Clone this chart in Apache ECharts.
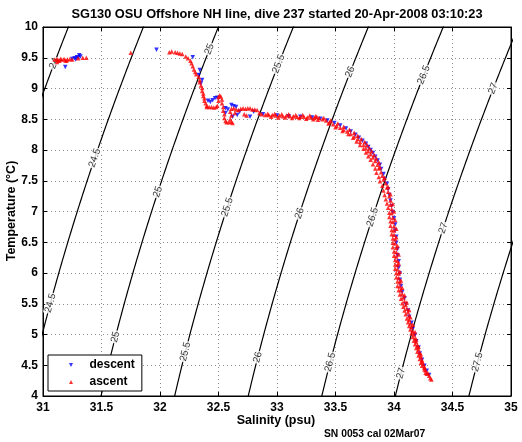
<!DOCTYPE html>
<html>
<head>
<meta charset="utf-8">
<script src="https://cdn.jsdelivr.net/npm/echarts@6/dist/echarts.min.js"></script>
<style>html,body{margin:0;padding:0;background:#fff;}#c{width:522px;height:442px;}</style>
</head>
<body>
<div id="c"></div>
<script>
// ---- Data ----
const titleText = 'SG130 OSU Offshore NH line, dive 237 started 20-Apr-2008 03:10:23';
const xName = 'Salinity (psu)';
const yName = 'Temperature (\u00B0C)';
const footText = 'SN 0053 cal 02Mar07';

// density (sigma-t) contour levels
const contourLevels = [24, 24.5, 25, 25.5, 26, 26.5, 27, 27.5];
// temperatures at which each contour is labelled
const contourLabelTemps = [
  [9.41],
  [7.87, 5.51],
  [9.64, 7.32, 4.96],
  [9.40, 7.07, 4.72],
  [9.27, 6.97, 4.63],
  [9.22, 6.91, 4.55],
  [9.00, 6.73, 4.37],
  [4.55]
];

// descent samples [salinity, temperature]
const descent = [
  [31.27,9.49],[31.29,9.51],[31.30,9.50],[31.31,9.54],[31.28,9.47],[31.19,9.35],[31.32,9.52],[31.25,9.48],
  [31.97,9.63],
  [32.28,9.51],[32.34,9.30],[32.33,9.22],[32.36,9.14],[32.35,9.08],[32.41,8.80],[32.43,8.78],[32.45,8.81],
  [32.47,8.84],[32.49,8.85],[32.56,8.68],[32.56,8.60],[32.58,8.66],[32.61,8.73],[32.63,8.71],[32.65,8.70],
  [32.66,8.57],[32.62,8.54],[32.68,8.62],[32.77,8.54],[32.80,8.62],[32.88,8.58],
  [33.00,8.56],[33.10,8.55],[33.20,8.54],[33.30,8.53],[33.37,8.51],[33.43,8.48],[33.49,8.44],[33.54,8.40],
  [33.59,8.35],[33.63,8.30],[33.67,8.25],[33.70,8.20],[33.73,8.15],[33.76,8.10],[33.78,8.05],[33.80,8.00],
  [33.82,7.95],[33.84,7.89],[33.86,7.83],[33.88,7.76],[33.89,7.69],[33.91,7.61],[33.92,7.53],[33.94,7.45],
  [33.95,7.36],[33.96,7.27],[33.97,7.18],[33.98,7.09],[33.99,6.99],[34.00,6.89],[34.01,6.79],[34.01,6.69],
  [34.02,6.59],[34.02,6.49],[34.03,6.39],[34.03,6.29],[34.04,6.19],[34.04,6.09],[34.05,5.99],[34.05,5.89],
  [34.06,5.79],[34.07,5.69],[34.09,5.59],[34.10,5.49],[34.12,5.39],[34.13,5.29],[34.15,5.19],[34.16,5.09],
  [34.18,4.99],[34.19,4.89],[34.21,4.79],[34.22,4.69],[34.24,4.59],[34.26,4.49],[34.28,4.41],[34.30,4.34]
];

// ascent samples [salinity, temperature]
const ascent = [
  [31.10,9.47],[31.12,9.48],[31.13,9.46],[31.15,9.48],[31.16,9.47],[31.18,9.48],[31.19,9.46],[31.21,9.47],
  [31.23,9.48],[31.25,9.47],[31.12,9.43],[31.14,9.45],[31.20,9.45],[31.30,9.49],[31.34,9.50],[31.37,9.50],
  [31.75,9.58],
  [32.08,9.59],[32.10,9.60],[32.13,9.59],[32.15,9.58],[32.17,9.57],[32.19,9.56],[32.22,9.52],[32.24,9.49],
  [32.26,9.45],[32.27,9.41],[32.28,9.36],[32.29,9.31],[32.30,9.27],[32.31,9.23],[32.33,9.19],[32.34,9.14],
  [32.34,9.10],[32.35,9.05],[32.36,9.01],[32.36,8.96],[32.37,8.92],[32.37,8.88],[32.38,8.84],[32.38,8.80],
  [32.39,8.76],[32.40,8.72],[32.40,8.70],[32.42,8.70],[32.44,8.70],[32.46,8.69],[32.48,8.70],[32.49,8.72],
  [32.50,8.80],[32.50,8.86],[32.51,8.89],[32.52,8.87],[32.53,8.82],[32.53,8.76],[32.54,8.70],[32.54,8.64],
  [32.55,8.58],[32.55,8.52],[32.56,8.47],[32.57,8.45],[32.59,8.45],[32.61,8.46],[32.62,8.44],[32.60,8.50],
  [32.61,8.56],[32.60,8.62],[32.61,8.67],[32.63,8.68],[32.64,8.60],[32.65,8.66],[32.67,8.65],[32.69,8.67],
  [32.71,8.68],[32.73,8.67],[32.75,8.68],[32.77,8.68],[32.79,8.66],[32.81,8.66],[32.83,8.65],[32.72,8.58],
  [32.74,8.56],[32.85,8.60],[32.87,8.58],[32.90,8.57],[32.93,8.57],[32.96,8.57],[32.99,8.56],[33.02,8.56],
  [33.05,8.55],[33.08,8.56],[33.11,8.55],[33.14,8.55],[33.17,8.54],[33.20,8.54],[33.23,8.54],[33.26,8.53],
  [33.29,8.53],[33.32,8.52],[33.34,8.54],[33.36,8.52],[33.39,8.50],[33.42,8.48],[33.45,8.45],[33.48,8.42],
  [33.51,8.39],[33.54,8.36],[33.57,8.33],[33.60,8.30],[33.63,8.26],[33.66,8.22],[33.69,8.18],[33.71,8.13],
  [33.74,8.08],[33.76,8.03],[33.78,7.98],[33.80,7.93],[33.82,7.88],[33.84,7.82],[33.86,7.76],[33.87,7.70],
  [33.89,7.64],[33.90,7.58],[33.91,7.52],[33.93,7.46],[33.94,7.39],[33.95,7.32],[33.96,7.25],[33.97,7.18],
  [33.97,7.11],[33.98,7.04],[33.98,6.97],[33.99,6.90],[33.99,6.83],[34.00,6.76],[34.00,6.69],[34.00,6.62],
  [34.01,6.55],[34.01,6.48],[34.02,6.41],[34.02,6.34],[34.02,6.27],[34.03,6.20],[34.03,6.13],[34.03,6.06],
  [34.04,5.99],[34.04,5.92],[34.05,5.85],[34.05,5.78],[34.06,5.72],[34.07,5.66],[34.08,5.60],[34.09,5.54],
  [34.10,5.48],[34.11,5.42],[34.12,5.36],[34.13,5.30],[34.13,5.24],[34.14,5.18],[34.15,5.12],[34.16,5.06],
  [34.17,5.00],[34.18,4.94],[34.19,4.88],[34.20,4.82],[34.21,4.76],[34.22,4.70],[34.23,4.64],[34.24,4.58],
  [34.25,4.52],[34.26,4.47],[34.27,4.42],[34.29,4.37],[34.30,4.33],[34.31,4.29],[34.32,4.27],
  // upper / lower edges of the near-horizontal stretch
  [32.92,8.59],[32.98,8.59],[33.04,8.58],[33.10,8.58],[33.16,8.57],[33.22,8.57],[33.28,8.56],[33.33,8.55],
  [32.95,8.54],[33.01,8.53],[33.07,8.53],[33.13,8.52],[33.19,8.52],[33.25,8.51],[33.31,8.50],
  // outer edge of the bend
  [33.40,8.52],[33.46,8.48],[33.52,8.43],[33.57,8.38],[33.62,8.33],[33.66,8.28],[33.69,8.23],[33.72,8.18],
  [33.75,8.13],[33.77,8.08],[33.79,8.03],[33.81,7.98],[33.83,7.92],[33.85,7.86],[33.87,7.80],
  // inner edge of the thick band
  [33.35,8.49],[33.44,8.43],[33.50,8.37],[33.56,8.31],[33.61,8.26],[33.65,8.20],[33.68,8.14],[33.71,8.08],
  [33.74,8.02],[33.76,7.96],[33.78,7.90],[33.80,7.84],[33.82,7.77],[33.84,7.70],[33.85,7.63],[33.87,7.56],
  [33.88,7.49],[33.90,7.42],[33.91,7.34],[33.92,7.27],[33.93,7.20],[33.94,7.13],[33.95,7.06],[33.96,6.98],
  [33.96,6.91],[33.97,6.84],[33.97,6.77],[33.98,6.70],[33.98,6.63],[33.99,6.56],[33.99,6.49],[33.99,6.42],
  [34.00,6.35],[34.00,6.28],[34.01,6.21],[34.01,6.14],[34.01,6.07],[34.02,6.00],[34.02,5.93],[34.03,5.86],
  [34.03,5.79],[34.04,5.72],[34.05,5.65],[34.06,5.58],[34.07,5.51],[34.08,5.45],[34.09,5.39],[34.10,5.33],
  [34.11,5.26],[34.12,5.20],[34.13,5.14],[34.14,5.08],[34.15,5.02],[34.16,4.96],[34.17,4.90],[34.18,4.84],
  [34.19,4.78],[34.20,4.72],[34.21,4.66],[34.22,4.60],[34.23,4.54],[34.24,4.49],[34.26,4.43],[34.27,4.38],
  // outer edge of the thick band
  [33.88,7.72],[33.92,7.55],[33.95,7.40],[33.97,7.28],[33.99,7.12],[34.00,7.00],[34.01,6.86],[34.02,6.72],
  [34.02,6.58],[34.03,6.44],[34.04,6.30],[34.04,6.16],[34.05,6.02],[34.06,5.88],[34.07,5.76],[34.09,5.64],
  [34.11,5.52],[34.13,5.40],[34.14,5.28],[34.16,5.16],[34.18,5.04],[34.19,4.92],[34.21,4.80],[34.23,4.68],
  [34.24,4.56],[34.26,4.46],[34.28,4.36]
];

// ---- UNESCO EOS-80 (surface) density anomaly, used for the isopycnals ----
function sigmaT(S, T) {
  const rw = 999.842594 + 6.793952e-2*T - 9.095290e-3*T*T + 1.001685e-4*T*T*T
           - 1.120083e-6*T*T*T*T + 6.536332e-9*T*T*T*T*T;
  const A = 0.824493 - 4.0899e-3*T + 7.6438e-5*T*T - 8.2467e-7*T*T*T + 5.3875e-9*T*T*T*T;
  const B = -5.72466e-3 + 1.0227e-4*T - 1.6546e-6*T*T;
  const C = 4.8314e-4;
  return rw + A*S + B*Math.pow(S, 1.5) + C*S*S - 1000;
}
function salinityFor(level, T) {
  let lo = 20, hi = 40;
  for (let i = 0; i < 60; i++) {
    const mid = (lo + hi) / 2;
    if (sigmaT(mid, T) < level) lo = mid; else hi = mid;
  }
  return (lo + hi) / 2;
}

const FONT = '"Liberation Sans", Arial, Helvetica, sans-serif';
const contourSeries = contourLevels.map(function (lv) {
  const pts = [];
  for (let k = 0; k <= 160; k++) {
    const T = 3.5 + k * 0.05;
    pts.push([salinityFor(lv, T), T]);
  }
  return {
    type: 'line', name: 'sigma' + lv, data: pts, showSymbol: false, symbol: 'none',
    lineStyle: { color: '#000', width: 1.2 }, z: 2, silent: true, clip: true, animation: false
  };
});

function labelItems(rotFn) {
  const out = [];
  contourLevels.forEach(function (lv, i) {
    contourLabelTemps[i].forEach(function (T) {
      out.push({ value: [salinityFor(lv, T), T], name: String(lv),
                 label: { rotate: rotFn ? rotFn(lv, T) : 72 } });
    });
  });
  return out;
}

const chart = echarts.init(document.getElementById('c'), null, { renderer: 'canvas' });

const axisCommon = {
  axisLine: { show: true, onZero: false, lineStyle: { color: '#000', width: 1 } },
  axisTick: { show: true, inside: true, length: 4, lineStyle: { color: '#000' } }
};

const option = {
  animation: false,
  backgroundColor: '#fff',
  grid: { left: 43, right: 11, top: 27, bottom: 46, show: true, borderColor: '#000', borderWidth: 1, backgroundColor: '#fff' },
  xAxis: [
    Object.assign({ type: 'value', min: 31, max: 35, interval: 0.5, position: 'bottom',
      axisLabel: { color: '#000', fontWeight: 'bold', fontSize: 12, fontFamily: FONT, margin: 6 },
      splitLine: { show: true, lineStyle: { color: '#8c8c8c', width: 1, type: [1, 3] } } }, axisCommon),
    Object.assign({ type: 'value', min: 31, max: 35, interval: 0.5, position: 'top',
      axisLabel: { show: false }, splitLine: { show: false } }, axisCommon)
  ],
  yAxis: [
    Object.assign({ type: 'value', min: 4, max: 10, interval: 0.5, position: 'left',
      axisLabel: { color: '#000', fontWeight: 'bold', fontSize: 12, fontFamily: FONT, margin: 5 },
      splitLine: { show: true, lineStyle: { color: '#8c8c8c', width: 1, type: [1, 3] } } }, axisCommon),
    Object.assign({ type: 'value', min: 4, max: 10, interval: 0.5, position: 'right',
      axisLabel: { show: false }, splitLine: { show: false } }, axisCommon)
  ],
  legend: {
    orient: 'vertical', left: 48, top: 355, padding: [3, 7, 2, 21], itemGap: 3,
    itemWidth: 27, itemHeight: 4, selectedMode: false,
    borderColor: '#000', borderWidth: 1, backgroundColor: '#fff', borderRadius: 0,
    textStyle: { color: '#000', fontWeight: 'bold', fontSize: 12, fontFamily: FONT, lineHeight: 14 },
    data: [
      { name: 'descent', icon: 'path://M0,0L10,0L5,10Z' },
      { name: 'ascent', icon: 'path://M5,0L10,10L0,10Z' }
    ],
    z: 10
  },
  graphic: [
    { type: 'text', x: 277, y: 14, style: { text: titleText, font: 'bold 12.8px ' + FONT, fill: '#000', textAlign: 'center', textVerticalAlign: 'middle' } },
    { type: 'text', x: 276, y: 421, style: { text: xName, font: 'bold 12.5px ' + FONT, fill: '#000', textAlign: 'center', textVerticalAlign: 'middle' } },
    { type: 'text', x: 12, y: 211, rotation: Math.PI / 2, style: { text: yName, font: 'bold 12.5px ' + FONT, fill: '#000', textAlign: 'center', textVerticalAlign: 'middle' } },
    { type: 'text', x: 324, y: 434, style: { text: footText, font: 'bold 10.3px ' + FONT, fill: '#000', textAlign: 'left', textVerticalAlign: 'middle' } }
  ],
  series: contourSeries.concat([
    {
      id: 'clabels', type: 'scatter', name: 'clabels', symbolSize: 0, z: 3, silent: true,
      data: labelItems(null),
      label: { show: true, position: 'inside', formatter: '{b}', color: '#000', fontSize: 10,
               fontFamily: FONT, backgroundColor: '#fff', padding: [0, 1] }
    },
    {
      type: 'scatter', name: 'descent', data: descent, symbol: 'triangle', symbolRotate: 180,
      symbolSize: 4.5, itemStyle: { color: '#0000ff' }, z: 4
    },
    {
      type: 'scatter', name: 'ascent', data: ascent, symbol: 'triangle',
      symbolSize: 4.5, itemStyle: { color: '#ff0000' }, z: 5
    }
  ])
};

chart.setOption(option);

// orient contour labels along the local direction of each contour
function rot(lv, T) {
  const p1 = chart.convertToPixel({ gridIndex: 0 }, [salinityFor(lv, T - 0.15), T - 0.15]);
  const p2 = chart.convertToPixel({ gridIndex: 0 }, [salinityFor(lv, T + 0.15), T + 0.15]);
  return Math.atan2(p1[1] - p2[1], p2[0] - p1[0]) * 180 / Math.PI;
}
chart.setOption({ series: [{ id: 'clabels', data: labelItems(rot) }] });
</script>
</body>
</html>
